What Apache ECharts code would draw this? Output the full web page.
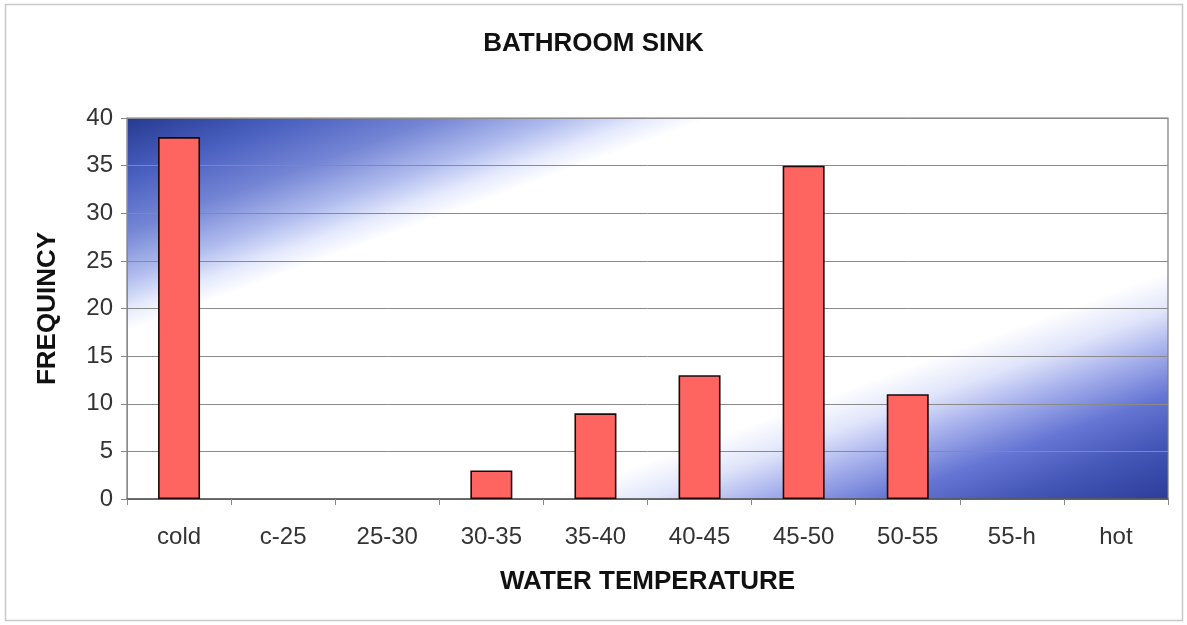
<!DOCTYPE html>
<html>
<head>
<meta charset="utf-8">
<title>BATHROOM SINK</title>
<script src="https://cdn.jsdelivr.net/npm/echarts@6/dist/echarts.min.js"></script>
<style>
  html, body { margin: 0; padding: 0; background: #ffffff; }
  #chart { width: 1187px; height: 625px; }
</style>
</head>
<body>
<div id="chart"></div>
<script>
// Temperature bins and how often each one occurred
const categories = ['cold', 'c-25', '25-30', '30-35', '35-40', '40-45', '45-50', '50-55', '55-h', 'hot'];
const frequency = [38, 0, 0, 3, 9, 13, 35, 11, 0, 0];
const yTicks = { min: 0, max: 40, interval: 5 };

const chart = echarts.init(document.getElementById('chart'), null, { renderer: 'canvas' });

// Plot rectangle
const grid = { left: 127, right: 19, top: 118, bottom: 126 };
const W = 1187 - grid.left - grid.right;
const H = 625 - grid.top - grid.bottom;

// Diagonal fill whose bands run parallel to the box's rising diagonal:
// the direction (H, W) is perpendicular to that diagonal in pixels.
const d2 = W * W + H * H;
const gx2 = 2 * H * H / d2;
const gy2 = 2 * W * W / d2;
const plotFill = new echarts.graphic.LinearGradient(0, 0, gx2, gy2, [
  { offset: 0.00, color: '#25398f' },
  { offset: 0.08, color: '#4a60c0' },
  { offset: 0.15, color: '#7485d4' },
  { offset: 0.21, color: '#b0bcee' },
  { offset: 0.25, color: '#e4e9fc' },
  { offset: 0.28, color: '#ffffff' },
  { offset: 0.70, color: '#ffffff' },
  { offset: 0.75, color: '#dfe4fa' },
  { offset: 0.80, color: '#a6b0ec' },
  { offset: 0.86, color: '#6676d4' },
  { offset: 0.92, color: '#4557b8' },
  { offset: 1.00, color: '#2b3c98' }
]);

const font = 'Arial, "Liberation Sans", Helvetica, sans-serif';

// Empty bins draw nothing, not even an outline
const barData = frequency.map(v => ({
  value: v,
  itemStyle: v === 0 ? { borderWidth: 0 } : undefined
}));

chart.setOption({
  animation: false,
  backgroundColor: '#ffffff',
  title: {
    text: 'BATHROOM SINK',
    left: 'center',
    top: 26,
    textStyle: { fontFamily: font, fontSize: 26, fontWeight: 'bold', color: '#111111' }
  },
  graphic: [{
    type: 'rect',
    shape: { x: 5.5, y: 4.5, width: 1177, height: 616 },
    style: { fill: 'none', stroke: '#c8c8c8', lineWidth: 1.5 },
    silent: true,
    z: -1
  }],
  grid: {
    left: grid.left, right: grid.right, top: grid.top, bottom: grid.bottom,
    show: true,
    backgroundColor: plotFill,
    borderColor: '#7a7a7a',
    borderWidth: 1.2
  },
  xAxis: {
    type: 'category',
    data: categories,
    name: 'WATER TEMPERATURE',
    nameLocation: 'middle',
    nameGap: 70,
    nameTextStyle: { fontFamily: font, fontSize: 26, fontWeight: 'bold', color: '#111111' },
    axisLine: { lineStyle: { color: '#555555', width: 1.5 } },
    axisTick: { show: true, length: 6, alignWithLabel: false, lineStyle: { color: '#888888' } },
    axisLabel: { fontFamily: font, fontSize: 24, color: '#333333', margin: 26 },
    splitLine: { show: false }
  },
  yAxis: {
    type: 'value',
    min: yTicks.min,
    max: yTicks.max,
    interval: yTicks.interval,
    name: 'FREQUINCY',
    nameLocation: 'middle',
    nameGap: 66,
    nameRotate: 90,
    nameTextStyle: { fontFamily: font, fontSize: 26, fontWeight: 'bold', color: '#111111' },
    axisLine: { show: true, lineStyle: { color: '#888888', width: 1 } },
    axisTick: { show: true, length: 6, lineStyle: { color: '#888888' } },
    axisLabel: { fontFamily: font, fontSize: 24, color: '#333333', margin: 14 },
    splitLine: { show: true, lineStyle: { color: '#8a8a8a', width: 1 } }
  },
  series: [{
    type: 'bar',
    data: barData,
    barWidth: 42,
    itemStyle: { color: '#ff6560', borderColor: '#1a0a0a', borderWidth: 1.6 },
    z: 3
  }]
});
</script>
</body>
</html>
